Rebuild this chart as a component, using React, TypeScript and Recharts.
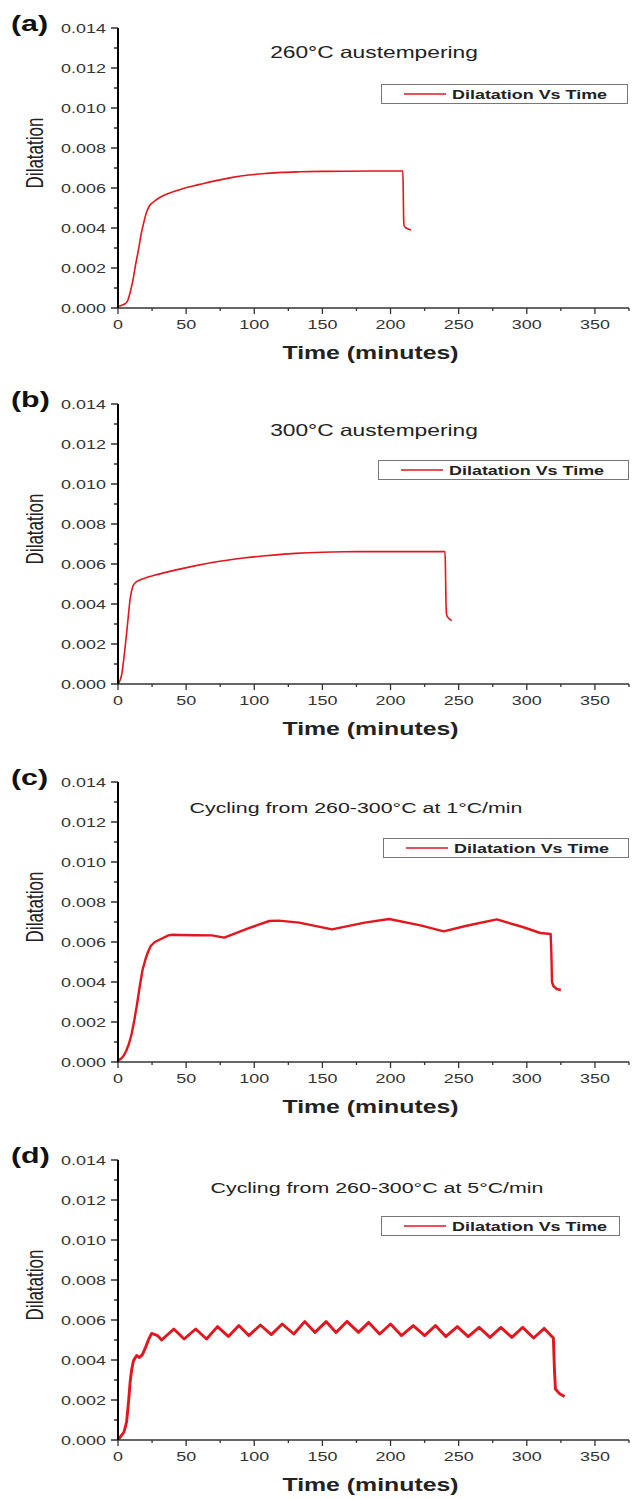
import React from 'react';
import { LineChart, Line, XAxis, YAxis, Legend } from 'recharts';

// ---------------- data ----------------
const xTicks = [0, 25, 50, 75, 100, 125, 150, 175, 200, 225, 250, 275, 300, 325, 350, 375];
const yTicks = [0, 0.001, 0.002, 0.003, 0.004, 0.005, 0.006, 0.007, 0.008, 0.009, 0.01, 0.011, 0.012, 0.013, 0.014];

const panelLetters = ['(a)', '(b)', '(c)', '(d)'];
const panelTitles = [
  '260°C austempering',
  '300°C austempering',
  'Cycling from 260-300°C at 1°C/min',
  'Cycling from 260-300°C at 5°C/min',
];
const seriesName = 'Dilatation Vs Time';
const xTitle = 'Time (minutes)';
const yTitle = 'Dilatation';

// (a) 260°C austempering
const timeA = [0, 1, 3, 5, 7, 9, 11, 13, 15, 17, 19, 21, 23, 26, 30, 35, 40, 48, 55, 60, 72, 84, 96, 109, 120, 133, 150, 170, 190, 209, 209.3, 209.6, 210, 211.5, 213, 215];
const dilA = [0.0001, 0.0001, 0.00015, 0.0002, 0.00035, 0.0008, 0.0014, 0.0022, 0.0029, 0.0037, 0.0043, 0.0048, 0.0051, 0.0053, 0.0055, 0.00568, 0.0058, 0.00598, 0.0061, 0.00618, 0.00637, 0.00653, 0.00665, 0.00673, 0.00678, 0.00681, 0.00683, 0.00684, 0.00685, 0.00685, 0.006, 0.0045, 0.0041, 0.004, 0.00395, 0.0039];

// (b) 300°C austempering
const timeB = [0, 1, 2.5, 5, 7, 9, 11, 13, 16, 20, 26, 35, 47, 58, 68, 80, 92, 106, 118, 130, 150, 166, 190, 215, 240, 240.3, 240.7, 241.2, 242.5, 245];
const dilB = [0, 0.0001, 0.0004, 0.0017, 0.003, 0.0043, 0.0049, 0.00508, 0.0052, 0.0053, 0.00542, 0.00558, 0.00577, 0.00593, 0.00606, 0.00619, 0.0063, 0.0064, 0.00647, 0.00653, 0.00659, 0.00661, 0.00662, 0.00662, 0.00662, 0.0058, 0.004, 0.00345, 0.0033, 0.00318];

// (c) cycling 1°C/min
const timeC = [0, 2, 4, 6, 8, 10, 12, 14, 16, 18, 20, 22, 24, 27, 30, 33, 37, 40, 45, 56, 69, 78, 95, 111, 118, 133, 157, 181, 199, 222, 239, 255, 278, 297, 310, 317.5, 318, 318.5, 319.5, 322, 325];
const dilC = [0.0001, 0.00015, 0.0003, 0.00055, 0.0009, 0.0014, 0.0021, 0.0029, 0.0038, 0.0046, 0.0051, 0.0055, 0.0058, 0.006, 0.0061, 0.0062, 0.00633, 0.00636, 0.00635, 0.00634, 0.00633, 0.00622, 0.00667, 0.00705, 0.00707, 0.00697, 0.00663, 0.00697, 0.00715, 0.00683, 0.00653, 0.0068, 0.00713, 0.00675, 0.00645, 0.0064, 0.0055, 0.004, 0.0038, 0.00365, 0.0036];

// (d) cycling 5°C/min
const timeD = [0, 2, 4.4, 6.3, 7.8, 8.9, 10, 11.3, 12.5, 13.7, 15.8, 17.9, 20.2, 22.6, 24.7, 29, 32, 41, 48.5, 57, 65, 73, 81, 88.7, 96, 104.5, 112.5, 120.5, 129, 137, 144.6, 152.7, 160, 168, 176.5, 184, 192, 200, 208, 216.7, 225, 233, 240.5, 249, 257, 265, 273, 281, 289, 297, 305, 312.8, 319.5, 320.3, 321, 323.8, 327.7];
const dilD = [0, 0.00018, 0.0004, 0.0009, 0.00195, 0.0029, 0.0035, 0.00395, 0.0041, 0.00422, 0.00413, 0.00427, 0.00463, 0.00505, 0.00533, 0.00522, 0.005, 0.00555, 0.00505, 0.00555, 0.00505, 0.00567, 0.00518, 0.00572, 0.00522, 0.00575, 0.00527, 0.0058, 0.0053, 0.00592, 0.00538, 0.00592, 0.00538, 0.00593, 0.00538, 0.00588, 0.0053, 0.0058, 0.00522, 0.00572, 0.00522, 0.00572, 0.00517, 0.00567, 0.00517, 0.00563, 0.00513, 0.00563, 0.00513, 0.00563, 0.0051, 0.00558, 0.0051, 0.0035, 0.00255, 0.00233, 0.00218];

const toRows = (t: number[], v: number[]) => t.map((x, i) => ({ t: x, v: v[i] }));
const datasets = [toRows(timeA, dilA), toRows(timeB, dilB), toRows(timeC, dilC), toRows(timeD, dilD)];

// ---------------- style / layout ----------------
const FONT = '"Liberation Sans", Arial, Helvetica, sans-serif';
const SX = 1.38;
const RED = '#e3161e';
const TEXT = '#262626';

const plotTops = [28, 404, 782, 1160];
const PLOT_H = 280;
const CHART_H = 368;
const lineWidths = [1.6, 1.6, 2.4, 2.9];
const curveTypes = ['monotone', 'monotone', 'linear', 'linear'];
const titleX = [374, 374, 356, 377];
const titleDy = [24, 26, 26, 28];
const legendBoxes = [
  { left: 381, width: 247 },
  { left: 378, width: 251 },
  { left: 383, width: 246 },
  { left: 381, width: 239 },
];

const SText = ({ x, y, anchor = 'middle', size, weight = 'normal', fill = TEXT, rotate = 0, children }: any) => (
  <text
    transform={`translate(${x},${y}) scale(${SX},1)${rotate ? ` rotate(${rotate})` : ''}`}
    textAnchor={anchor}
    dominantBaseline="central"
    fontSize={size}
    fontWeight={weight}
    fill={fill}
    fontFamily={FONT}
  >
    {children}
  </text>
);

const YTick = (props: any) => {
  const { x, y, payload } = props;
  const v = payload.value;
  const major = Math.round(v * 1000) % 2 === 0;
  return (
    <g>
      <line x1={x - (major ? 7 : 4)} x2={x} y1={y} y2={y} stroke="#111" strokeWidth={1.3} />
      {major && (
        <SText x={x - 12} y={y} anchor="end" size={13} fill="#333">
          {v.toFixed(3)}
        </SText>
      )}
    </g>
  );
};

const XTick = (props: any) => {
  const { x, y, payload } = props;
  const v = payload.value;
  const major = v % 50 === 0 && v <= 350;
  return (
    <g>
      <line x1={x} x2={x} y1={y} y2={y + (major ? 6 : 3)} stroke="#333" strokeWidth={1.3} />
      {major && (
        <SText x={x} y={y + 16} size={13} fill="#333">
          {String(v)}
        </SText>
      )}
    </g>
  );
};

const XLabel = (props: any) => {
  const vb = props.viewBox || {};
  return (
    <SText x={vb.x + vb.width / 2 - 3} y={vb.y + 45} size={18} weight="bold" fill="#222">
      {xTitle}
    </SText>
  );
};

const YLabel = (props: any) => {
  const vb = props.viewBox || {};
  return (
    <SText x={34} y={vb.y + vb.height / 2 - 15} size={17} rotate={-90} fill="#222">
      {yTitle}
    </SText>
  );
};

const LegendBox = ({ width }: any) => (
  <div style={{ width, height: 20, border: '1px solid #777', background: '#fff', boxSizing: 'border-box' }}>
    <svg width={width - 2} height={18} style={{ display: 'block' }}>
      <line x1={22} x2={64} y1={9} y2={9} stroke={RED} strokeWidth={1.6} />
      <SText x={70} y={9.5} anchor="start" size={13} weight="bold" fill="#222">
        {seriesName}
      </SText>
    </svg>
  </div>
);

const Panel = ({ idx }: any) => {
  const top = plotTops[idx] - 28;
  const lb = legendBoxes[idx];
  return (
    <div style={{ position: 'absolute', left: 0, top }}>
      <LineChart width={635} height={CHART_H} data={datasets[idx]} margin={{ top: 28, right: 6, left: 0, bottom: 0 }}>
        <XAxis
          type="number"
          dataKey="t"
          domain={[0, 375]}
          ticks={xTicks}
          interval={0}
          height={CHART_H - 28 - PLOT_H}
          tickSize={0}
          tickMargin={0}
          tickLine={false}
          tick={<XTick />}
          axisLine={{ stroke: '#333', strokeWidth: 1.6 }}
          allowDataOverflow
          label={(p: any) => <XLabel {...p} />}
        />
        <YAxis
          type="number"
          dataKey="v"
          domain={[0, 0.014]}
          ticks={yTicks}
          interval={0}
          width={118}
          tickSize={0}
          tickMargin={0}
          tickLine={false}
          tick={<YTick />}
          axisLine={{ stroke: '#000', strokeWidth: 2 }}
          allowDataOverflow
          label={(p: any) => <YLabel {...p} />}
        />
        <Legend
          layout="horizontal"
          verticalAlign="middle"
          align="center"
          wrapperStyle={{ position: 'absolute', left: lb.left, top: 84, width: lb.width, height: 20, margin: 0, padding: 0 }}
          content={() => <LegendBox width={lb.width} />}
        />
        <Line
          type={curveTypes[idx] as any}
          dataKey="v"
          name={seriesName}
          stroke={RED}
          strokeWidth={lineWidths[idx]}
          dot={false}
          activeDot={false}
          isAnimationActive={false}
          strokeLinejoin="round"
        />
      </LineChart>
    </div>
  );
};

export default function App() {
  return (
    <div style={{ position: 'absolute', left: 0, top: 0, width: 635, height: 1499, background: '#fff', fontFamily: FONT }}>
      {[0, 1, 2, 3].map((i) => (
        <Panel key={i} idx={i} />
      ))}
      <svg width={635} height={1499} style={{ position: 'absolute', left: 0, top: 0, pointerEvents: 'none' }}>
        {[0, 1, 2, 3].map((i) => (
          <g key={i}>
            <SText x={11} y={plotTops[i] - 4} anchor="start" size={22} weight="bold" fill="#111">
              {panelLetters[i]}
            </SText>
            <SText x={titleX[i]} y={plotTops[i] + titleDy[i]} size={i < 2 ? 16.5 : 15.5} fill="#222">
              {panelTitles[i]}
            </SText>
          </g>
        ))}
      </svg>
    </div>
  );
}
